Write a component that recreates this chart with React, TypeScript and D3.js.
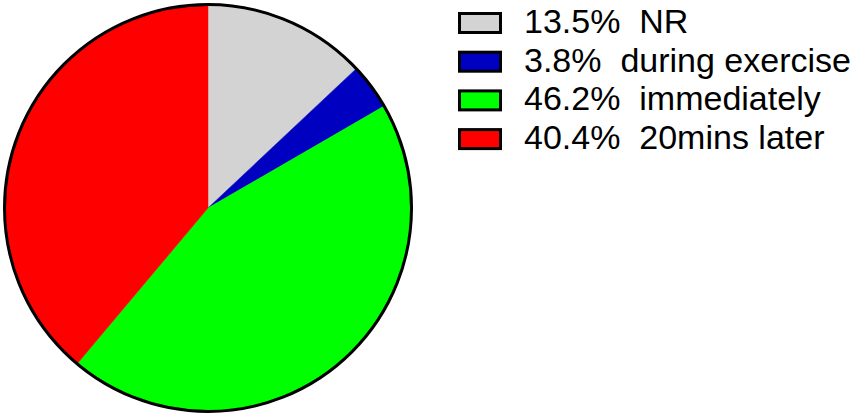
import React from "react";
import * as d3 from "d3";

const categories = ["NR", "during exercise", "immediately", "20mins later"];
const percents = [13.5, 3.8, 46.2, 40.4];
const percentLabels = ["13.5%", "3.8%", "46.2%", "40.4%"];
const colors = ["#d3d3d3", "#0000c0", "#00ff00", "#ff0000"];

const W = 851;
const H = 415;
const cx = 208;
const cy = 208;
const R = 203.5;

// legend layout
const boxX = 459.5;
const boxW = 41;
const boxH = 19;
const baseY0 = 33;
const rowStep = 38.7;
const textX = 524;
const fontSize = 34;

export default function App() {
  const pie = d3
    .pie<number>()
    .sort(null)
    .value((d) => d)
    .startAngle(0)
    .endAngle(2 * Math.PI);
  const arcs = pie(percents);
  const arc = d3.arc<d3.PieArcDatum<number>>().innerRadius(0).outerRadius(R);

  return (
    <svg
      width={W}
      height={H}
      style={{ position: "absolute", left: 0, top: 0, background: "#fff" }}
      fontFamily="Liberation Sans, Arial, sans-serif"
    >
      <g transform={`translate(${cx},${cy})`}>
        {arcs.map((a, i) => (
          <path key={i} d={arc(a) || ""} fill={colors[i]} stroke={colors[i]} strokeWidth={0.5} />
        ))}
        <circle r={R} fill="none" stroke="#000" strokeWidth={3} />
      </g>
      {categories.map((c, i) => {
        const by = baseY0 + i * rowStep;
        return (
          <g key={c}>
            <rect
              x={boxX}
              y={by - 19.5}
              width={boxW}
              height={boxH}
              fill={colors[i]}
              stroke="#000"
              strokeWidth={3}
            />
            <text
              x={textX}
              y={by}
              fontSize={fontSize}
              fill="#000"
              style={{ whiteSpace: "pre" }}
              xmlSpace="preserve"
            >
              {`${percentLabels[i]}  ${c}`}
            </text>
          </g>
        );
      })}
    </svg>
  );
}
